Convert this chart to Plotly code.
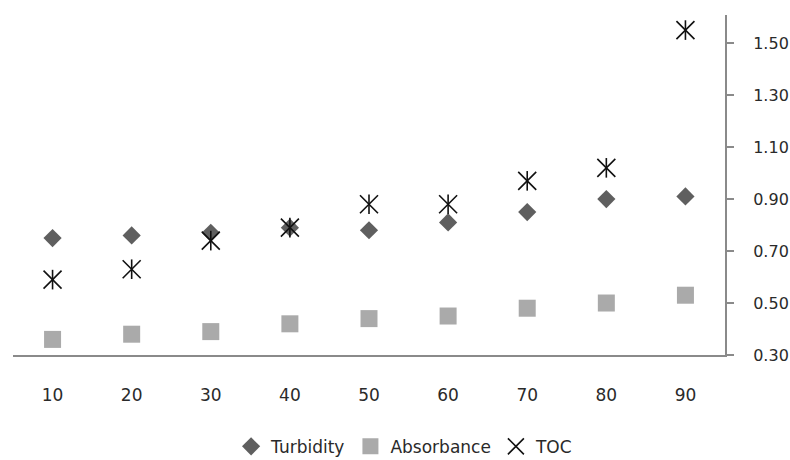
import plotly.graph_objects as go

# Sample volume categories and measured series
categories = [10, 20, 30, 40, 50, 60, 70, 80, 90]
turbidity = [0.75, 0.76, 0.77, 0.79, 0.78, 0.81, 0.85, 0.90, 0.91]
absorbance = [0.36, 0.38, 0.39, 0.42, 0.44, 0.45, 0.48, 0.50, 0.53]
toc = [0.59, 0.63, 0.74, 0.79, 0.88, 0.88, 0.97, 1.02, 1.55]
y_ticks = [0.30, 0.50, 0.70, 0.90, 1.10, 1.30, 1.50]

FONT = "DejaVu Sans"
AXIS_GREY = "#8a8a8a"
TEXT = "#2a2a2a"

fig = go.Figure()

fig.add_trace(go.Scatter(
    x=categories, y=turbidity, mode="markers", name="Turbidity",
    marker=dict(symbol="diamond", size=14, color="#5f5f5f", line=dict(width=0)),
))
fig.add_trace(go.Scatter(
    x=categories, y=absorbance, mode="markers", name="Absorbance",
    marker=dict(symbol="square", size=17, color="#aaaaaa", line=dict(width=0)),
))
# TOC star: an X with a vertical stroke through it
fig.add_trace(go.Scatter(
    x=categories, y=toc, mode="markers", name="TOC", legendgroup="toc",
    marker=dict(symbol="x-thin-open", size=18, color="#111111",
                line=dict(width=1.6, color="#111111")),
))
fig.add_trace(go.Scatter(
    x=categories, y=toc, mode="markers", name="TOC", legendgroup="toc",
    showlegend=False, hoverinfo="skip",
    marker=dict(symbol="line-ns-open", size=14, color="#111111",
                line=dict(width=1.6, color="#111111")),
))

fig.update_layout(
    width=790, height=460,
    margin=dict(l=13, r=65, t=15, b=105, autoexpand=False),
    paper_bgcolor="white", plot_bgcolor="white",
    font=dict(family=FONT, size=17, color=TEXT),
    showlegend=True,
    legend=dict(
        orientation="h", x=0.55, xanchor="center", y=-0.27, yanchor="middle",
        font=dict(family=FONT, size=17, color=TEXT),
        itemwidth=30, tracegroupgap=0,
    ),
    xaxis=dict(
        range=[5, 95], tickmode="array", tickvals=categories,
        ticktext=[str(c) for c in categories],
        showline=True, linecolor=AXIS_GREY, linewidth=2,
        ticks="", showgrid=False, zeroline=False, automargin=False,
        ticklabelstandoff=24,
        tickfont=dict(family=FONT, size=17, color=TEXT),
    ),
    yaxis=dict(
        side="right", range=[0.30, 1.608], tickmode="array", tickvals=y_ticks,
        ticktext=[f"{v:.2f}" for v in y_ticks],
        showline=True, linecolor=AXIS_GREY, linewidth=2,
        ticks="outside", ticklen=7, tickwidth=1.5, tickcolor=AXIS_GREY,
        showgrid=False, zeroline=False, automargin=False,
        ticklabelstandoff=16,
        tickfont=dict(family=FONT, size=16, color=TEXT),
    ),
)

fig.write_html("out.html")
